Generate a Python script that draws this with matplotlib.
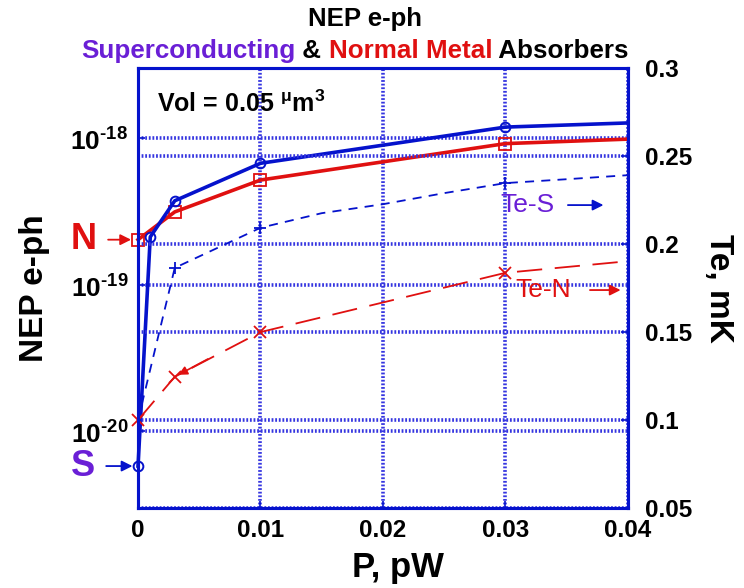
import matplotlib
matplotlib.use("Agg")
import matplotlib.pyplot as plt
import numpy as np
from matplotlib.offsetbox import TextArea, HPacker, AnnotationBbox

plt.rcParams['font.family'] = ['Liberation Sans', 'DejaVu Sans']
plt.rcParams['font.weight'] = 'bold'
plt.rcParams['mathtext.fontset'] = 'custom'
plt.rcParams['mathtext.rm'] = 'Liberation Sans:bold'
plt.rcParams['mathtext.bf'] = 'Liberation Sans:bold'
plt.rcParams['axes.unicode_minus'] = False

# absorbed power, pW
p_s = [0, 0.001, 0.003, 0.01, 0.03, 0.04]
p_n = [0, 0.003, 0.01, 0.03, 0.04]
p_tes = [0, 0.003, 0.01, 0.015, 0.02, 0.025, 0.03, 0.035, 0.04]

# electron-phonon NEP (left axis)
nep_s = [5.8e-21, 2.12e-19, 3.74e-19, 6.74e-19, 1.19e-18, 1.27e-18]
nep_n = [2.03e-19, 3.14e-19, 5.18e-19, 9.18e-19, 9.85e-19]

# electron temperature (right axis)
te_s = [0.1, 0.1865, 0.2093, 0.2176, 0.2227, 0.2290, 0.2347, 0.2369, 0.2392]
te_n = [0.1, 0.1246, 0.15, 0.1837, 0.1903]

nep_ticks = [1e-20, 1e-19, 1e-18]
nep_ticklabels = [r'$10^{\text{-20}}$', r'$10^{\text{-19}}$', r'$10^{\text{-18}}$']
te_ticks = [0.05, 0.1, 0.15, 0.2, 0.25, 0.3]
te_ticklabels = ['0.05', '0.1', '0.15', '0.2', '0.25', '0.3']
p_ticks = [0, 0.01, 0.02, 0.03, 0.04]
p_ticklabels = ['0', '0.01', '0.02', '0.03', '0.04']

blue = '#0512cc'
red = '#e01010'
purple = '#6a1fd6'
gridc = '#3535e0'
gridstyle = dict(color=gridc, linestyle=(0, (0.5, 0.5)), linewidth=2.6)

fig = plt.figure(figsize=(7.44, 5.88), dpi=100)
ax = fig.add_axes([0.1855, 0.136, 0.6585, 0.748])
ax2 = ax.twinx()

ax.set_yscale('log')
ax.set_xlim(0, 0.04)
ax.set_ylim(3e-21, 3e-18)
ax2.set_ylim(0.05, 0.3)

ax.plot(p_s, nep_s, '-', color=blue, lw=2.6, marker='o', ms=7, mfc='none', mew=1.4,
        markevery=[0, 1, 2, 3, 4], clip_on=False, zorder=5)
ax.plot(p_n, nep_n, '-', color=red, lw=2.6, marker='s', ms=8, mfc='none', mew=1.3,
        markevery=[0, 1, 2, 3], clip_on=False, zorder=4)

ax2.plot(p_tes, te_s, color=blue, lw=1.3, linestyle=(0, (5, 4)), marker='+', ms=9, mew=1.3,
         markevery=[1, 2, 6])
ax2.plot(p_n, te_n, color=red, lw=1.3, linestyle=(0, (14, 7)), marker='x', ms=8, mew=1.3,
         markevery=[0, 1, 2, 3], clip_on=False)

# grids: x and log decades on the left scale, linear ticks on the right scale
ax.set_xticks(p_ticks)
ax.set_xticklabels(p_ticklabels)
ax.set_yticks(nep_ticks)
ax.set_yticklabels(nep_ticklabels)
ax.yaxis.set_minor_locator(matplotlib.ticker.NullLocator())
ax.grid(True, which='major', **gridstyle)
ax2.set_yticks(te_ticks)
ax2.set_yticklabels(te_ticklabels)
ax2.grid(True, axis='y', **gridstyle)

for a in (ax, ax2):
    a.tick_params(direction='in', labelcolor='black', color=blue, labelsize=17.5,
                  length=5, width=1.2, top=False)
    for s in a.spines.values():
        s.set_color(blue)
        s.set_linewidth(2.2)
ax.tick_params(axis='y', pad=7, labelsize=19)
ax.tick_params(axis='x', pad=8)
ax2.tick_params(axis='y', pad=12)

fig.text(398 / 744, 11 / 588, 'P, pW', ha='center', va='baseline', fontsize=25,
         fontweight='bold')
ax.set_ylabel('NEP e-ph', fontsize=24, fontweight='bold', labelpad=15)
ax2.set_ylabel('Te, mK', fontsize=24, fontweight='bold', rotation=270, labelpad=30)

# titles
fig.text(0.49, 0.967, 'NEP e-ph', ha='center', va='center', fontsize=18.5, fontweight='bold')
parts = [('Superconducting', purple), (' & ', 'black'), ('Normal Metal', red),
         (' Absorbers', 'black')]
box = HPacker(children=[TextArea(t, textprops=dict(color=c, fontsize=18.7, fontweight='bold'))
                        for t, c in parts], align='baseline', pad=0, sep=0)
fig.add_artist(AnnotationBbox(box, (0.477, 0.914), xycoords='figure fraction',
                              frameon=False, box_alignment=(0.5, 0.5)))

ax.text(0.038, 0.92, r'Vol = 0.05 $^{\mathrm{\mu}}$m$^{3}$', transform=ax.transAxes,
        fontsize=18, fontweight='bold', va='center', ha='left')

# N / S markers on the left axis
ax.annotate('N', xy=(0, nep_n[0]), xytext=(-54, 0), textcoords='offset pixels',
            color=red, fontsize=26, fontweight='bold', ha='center', va='center',
            annotation_clip=False,
            arrowprops=dict(arrowstyle='-|>', color=red, lw=1.3, shrinkA=6, shrinkB=5,
                            mutation_scale=16))
ax.annotate('S', xy=(0, nep_s[0]), xytext=(-55, 0), textcoords='offset pixels',
            color=purple, fontsize=26, fontweight='bold', ha='center', va='center',
            annotation_clip=False,
            arrowprops=dict(arrowstyle='-|>', color=blue, lw=1.3, shrinkA=6, shrinkB=4,
                            mutation_scale=16))

# temperature curve labels
ax2.text(0.0318, 0.2222, 'Te-S', color=purple, fontsize=19, fontweight='normal',
         ha='center', va='center')
ax2.annotate('', xy=(0.0380, 0.2222), xytext=(0.0351, 0.2222),
             arrowprops=dict(arrowstyle='-|>', color=blue, lw=1.3, mutation_scale=16,
                             shrinkA=0, shrinkB=0))
ax2.text(0.0331, 0.1739, 'Te-N', color=red, fontsize=19, fontweight='normal',
         ha='center', va='center')
ax2.annotate('', xy=(0.0394, 0.1739), xytext=(0.0369, 0.1739),
             arrowprops=dict(arrowstyle='-|>', color=red, lw=1.3, mutation_scale=16,
                             shrinkA=0, shrinkB=0))
ax2.annotate('', xy=(p_n[1], te_n[1]), xytext=(0.0057, 0.1347),
             arrowprops=dict(arrowstyle='-|>', color=red, lw=1.2, mutation_scale=13,
                             shrinkA=0, shrinkB=3))

fig.savefig('out.png', dpi=100)
